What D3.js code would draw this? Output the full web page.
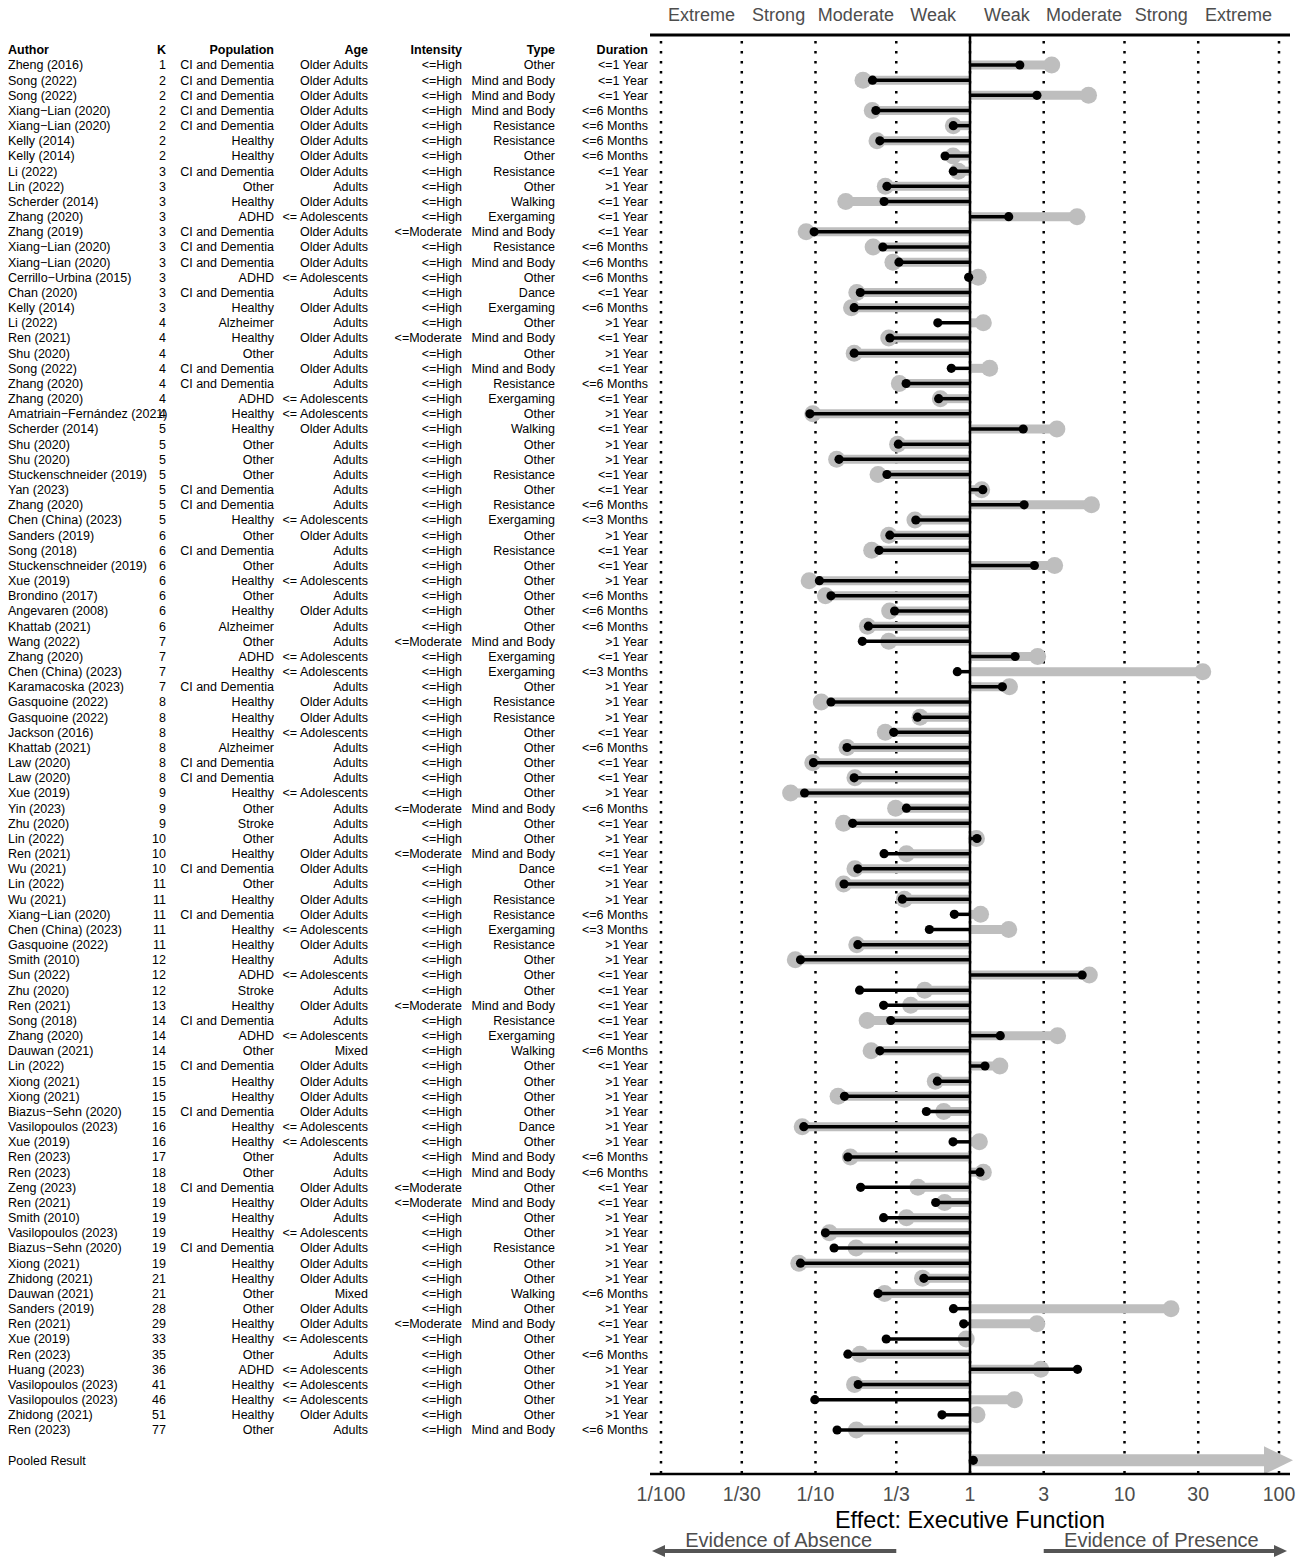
<!DOCTYPE html>
<html>
<head>
<meta charset="utf-8">
<title>Effect: Executive Function</title>
<style>
  body { margin: 0; background: #fff; }
  text { font-family: "Liberation Sans", Arial, sans-serif; }
</style>
</head>
<body>
<script src="https://d3js.org/d3.v7.min.js"></script>
<script>

// ---- data ----
var authors = ["Zheng (2016)","Song (2022)","Song (2022)","Xiang−Lian (2020)","Xiang−Lian (2020)","Kelly (2014)","Kelly (2014)","Li (2022)","Lin (2022)","Scherder (2014)",
  "Zhang (2020)","Zhang (2019)","Xiang−Lian (2020)","Xiang−Lian (2020)","Cerrillo−Urbina (2015)","Chan (2020)","Kelly (2014)","Li (2022)","Ren (2021)","Shu (2020)",
  "Song (2022)","Zhang (2020)","Zhang (2020)","Amatriain−Fernández (2021)","Scherder (2014)","Shu (2020)","Shu (2020)","Stuckenschneider (2019)","Yan (2023)","Zhang (2020)",
  "Chen (China) (2023)","Sanders (2019)","Song (2018)","Stuckenschneider (2019)","Xue (2019)","Brondino (2017)","Angevaren (2008)","Khattab (2021)","Wang (2022)","Zhang (2020)",
  "Chen (China) (2023)","Karamacoska (2023)","Gasquoine (2022)","Gasquoine (2022)","Jackson (2016)","Khattab (2021)","Law (2020)","Law (2020)","Xue (2019)","Yin (2023)",
  "Zhu (2020)","Lin (2022)","Ren (2021)","Wu (2021)","Lin (2022)","Wu (2021)","Xiang−Lian (2020)","Chen (China) (2023)","Gasquoine (2022)","Smith (2010)",
  "Sun (2022)","Zhu (2020)","Ren (2021)","Song (2018)","Zhang (2020)","Dauwan (2021)","Lin (2022)","Xiong (2021)","Xiong (2021)","Biazus−Sehn (2020)",
  "Vasilopoulos (2023)","Xue (2019)","Ren (2023)","Ren (2023)","Zeng (2023)","Ren (2021)","Smith (2010)","Vasilopoulos (2023)","Biazus−Sehn (2020)","Xiong (2021)",
  "Zhidong (2021)","Dauwan (2021)","Sanders (2019)","Ren (2021)","Xue (2019)","Ren (2023)","Huang (2023)","Vasilopoulos (2023)","Vasilopoulos (2023)","Zhidong (2021)",
  "Ren (2023)"];

var kValues = [1,2,2,2,2,2,2,3,3,3, 3,3,3,3,3,3,3,4,4,4, 4,4,4,4,5,5,5,5,5,5, 5,6,6,6,6,6,6,6,7,7,
  7,7,8,8,8,8,8,8,9,9, 9,10,10,10,11,11,11,11,11,12, 12,12,13,14,14,14,15,15,15,15,
  16,16,17,18,18,19,19,19,19,19, 21,21,28,29,33,35,36,41,46,51, 77];

var populations = ["CI and Dementia","CI and Dementia","CI and Dementia","CI and Dementia","CI and Dementia","Healthy","Healthy","CI and Dementia","Other","Healthy",
  "ADHD","CI and Dementia","CI and Dementia","CI and Dementia","ADHD","CI and Dementia","Healthy","Alzheimer","Healthy","Other",
  "CI and Dementia","CI and Dementia","ADHD","Healthy","Healthy","Other","Other","Other","CI and Dementia","CI and Dementia",
  "Healthy","Other","CI and Dementia","Other","Healthy","Other","Healthy","Alzheimer","Other","ADHD",
  "Healthy","CI and Dementia","Healthy","Healthy","Healthy","Alzheimer","CI and Dementia","CI and Dementia","Healthy","Other",
  "Stroke","Other","Healthy","CI and Dementia","Other","Healthy","CI and Dementia","Healthy","Healthy","Healthy",
  "ADHD","Stroke","Healthy","CI and Dementia","ADHD","Other","CI and Dementia","Healthy","Healthy","CI and Dementia",
  "Healthy","Healthy","Other","Other","CI and Dementia","Healthy","Healthy","Healthy","CI and Dementia","Healthy",
  "Healthy","Other","Other","Healthy","Healthy","Other","ADHD","Healthy","Healthy","Healthy",
  "Other"];

var ages = ["Older Adults","Older Adults","Older Adults","Older Adults","Older Adults","Older Adults","Older Adults","Older Adults","Adults","Older Adults",
  "<= Adolescents","Older Adults","Older Adults","Older Adults","<= Adolescents","Adults","Older Adults","Adults","Older Adults","Adults",
  "Older Adults","Adults","<= Adolescents","<= Adolescents","Older Adults","Adults","Adults","Adults","Adults","Adults",
  "<= Adolescents","Older Adults","Adults","Adults","<= Adolescents","Adults","Older Adults","Adults","Adults","<= Adolescents",
  "<= Adolescents","Adults","Older Adults","Older Adults","<= Adolescents","Adults","Adults","Adults","<= Adolescents","Adults",
  "Adults","Adults","Older Adults","Older Adults","Adults","Older Adults","Older Adults","<= Adolescents","Older Adults","Adults",
  "<= Adolescents","Adults","Older Adults","Adults","<= Adolescents","Mixed","Older Adults","Older Adults","Older Adults","Older Adults",
  "<= Adolescents","<= Adolescents","Adults","Adults","Older Adults","Older Adults","Adults","<= Adolescents","Older Adults","Older Adults",
  "Older Adults","Mixed","Older Adults","Older Adults","<= Adolescents","Adults","<= Adolescents","<= Adolescents","<= Adolescents","Older Adults",
  "Adults"];

var intensities = ["<=High","<=High","<=High","<=High","<=High","<=High","<=High","<=High","<=High","<=High",
  "<=High","<=Moderate","<=High","<=High","<=High","<=High","<=High","<=High","<=Moderate","<=High",
  "<=High","<=High","<=High","<=High","<=High","<=High","<=High","<=High","<=High","<=High",
  "<=High","<=High","<=High","<=High","<=High","<=High","<=High","<=High","<=Moderate","<=High",
  "<=High","<=High","<=High","<=High","<=High","<=High","<=High","<=High","<=High","<=Moderate",
  "<=High","<=High","<=Moderate","<=High","<=High","<=High","<=High","<=High","<=High","<=High",
  "<=High","<=High","<=Moderate","<=High","<=High","<=High","<=High","<=High","<=High","<=High",
  "<=High","<=High","<=High","<=High","<=Moderate","<=Moderate","<=High","<=High","<=High","<=High",
  "<=High","<=High","<=High","<=Moderate","<=High","<=High","<=High","<=High","<=High","<=High",
  "<=High"];

var types = ["Other","Mind and Body","Mind and Body","Mind and Body","Resistance","Resistance","Other","Resistance","Other","Walking",
  "Exergaming","Mind and Body","Resistance","Mind and Body","Other","Dance","Exergaming","Other","Mind and Body","Other",
  "Mind and Body","Resistance","Exergaming","Other","Walking","Other","Other","Resistance","Other","Resistance",
  "Exergaming","Other","Resistance","Other","Other","Other","Other","Other","Mind and Body","Exergaming",
  "Exergaming","Other","Resistance","Resistance","Other","Other","Other","Other","Other","Mind and Body",
  "Other","Other","Mind and Body","Dance","Other","Resistance","Resistance","Exergaming","Resistance","Other",
  "Other","Other","Mind and Body","Resistance","Exergaming","Walking","Other","Other","Other","Other",
  "Dance","Other","Mind and Body","Mind and Body","Other","Mind and Body","Other","Other","Resistance","Other",
  "Other","Walking","Other","Mind and Body","Other","Other","Other","Other","Other","Other",
  "Mind and Body"];

var durations = ["<=1 Year","<=1 Year","<=1 Year","<=6 Months","<=6 Months","<=6 Months","<=6 Months","<=1 Year",">1 Year","<=1 Year",
  "<=1 Year","<=1 Year","<=6 Months","<=6 Months","<=6 Months","<=1 Year","<=6 Months",">1 Year","<=1 Year",">1 Year",
  "<=1 Year","<=6 Months","<=1 Year",">1 Year","<=1 Year",">1 Year",">1 Year","<=1 Year","<=1 Year","<=6 Months",
  "<=3 Months",">1 Year","<=1 Year","<=1 Year",">1 Year","<=6 Months","<=6 Months","<=6 Months",">1 Year","<=1 Year",
  "<=3 Months",">1 Year",">1 Year",">1 Year","<=1 Year","<=6 Months","<=1 Year","<=1 Year",">1 Year","<=6 Months",
  "<=1 Year",">1 Year","<=1 Year","<=1 Year",">1 Year",">1 Year","<=6 Months","<=3 Months",">1 Year",">1 Year",
  "<=1 Year","<=1 Year","<=1 Year","<=1 Year","<=1 Year","<=6 Months","<=1 Year",">1 Year",">1 Year",">1 Year",
  ">1 Year",">1 Year","<=6 Months","<=6 Months","<=1 Year","<=1 Year",">1 Year",">1 Year",">1 Year",">1 Year",
  ">1 Year","<=6 Months",">1 Year","<=1 Year",">1 Year","<=6 Months",">1 Year",">1 Year",">1 Year",">1 Year",
  "<=6 Months"];

// black lollipop (point estimate)
var pointBF = [2.10,0.234,2.71,0.246,0.78,0.261,0.69,0.78,0.290,0.278,
  1.78,0.098,0.273,0.347,0.98,0.195,0.178,0.619,0.303,0.178,
  0.757,0.386,0.627,0.092,2.21,0.344,0.142,0.290,1.21,2.24,
  0.446,0.303,0.258,2.61,0.106,0.126,0.325,0.220,0.201,1.96,
  0.828,1.62,0.126,0.457,0.321,0.160,0.097,0.178,0.085,0.388,
  0.174,1.11,0.278,0.188,0.153,0.365,0.792,0.546,0.188,0.080,
  5.32,0.193,0.276,0.307,1.57,0.261,1.25,0.615,0.154,0.522,
  0.084,0.777,0.162,1.16,0.196,0.600,0.276,0.116,0.132,0.080,
  0.503,0.254,0.782,0.910,0.287,0.162,4.96,0.189,0.099,0.659,
  0.138];

// grey lollipop
var barBF = [3.38,0.203,5.85,0.233,0.78,0.250,0.777,0.84,0.283,0.157,
  4.93,0.087,0.236,0.317,1.13,0.185,0.171,1.22,0.298,0.178,
  1.34,0.349,0.643,0.096,3.65,0.340,0.137,0.254,1.19,6.11,
  0.440,0.298,0.231,3.53,0.091,0.116,0.302,0.217,0.298,2.74,
  32.1,1.80,0.109,0.475,0.283,0.160,0.096,0.180,0.069,0.330,
  0.152,1.10,0.388,0.180,0.152,0.376,1.17,1.78,0.185,0.074,
  5.92,0.509,0.413,0.216,3.69,0.229,1.56,0.596,0.140,0.676,
  0.082,1.15,0.168,1.22,0.460,0.685,0.388,0.123,0.183,0.078,
  0.493,0.280,20.0,2.71,0.945,0.194,2.87,0.179,1.94,1.11,
  0.184];

var pooledLabel = "Pooled Result";
var pooledPoint = 1.05;
var pooledBar = 1000;   // runs off the right edge, drawn as an arrow

var tickValues = [0.01, 1/30, 0.1, 1/3, 1, 3, 10, 30, 100];
var tickLabels = ["1/100","1/30","1/10","1/3","1","3","10","30","100"];
var strengthLabels = ["Extreme","Strong","Moderate","Weak","Weak","Moderate","Strong","Extreme"];

// ---- layout ----
var width = 1302, height = 1557;
var plotLeft = 650, plotRight = 1290, plotTop = 35, plotBottom = 1474;
var grey = "#bebebe", textGrey = "#4d4d4d";

var svg = d3.select("body").append("svg")
  .attr("width", width)
  .attr("height", height);

var x = d3.scaleLog().domain([0.01, 100]).range([661, 1279]);
var y = d3.scaleLinear().domain([0, authors.length - 1]).range([65, 1430]);
var rows = d3.range(authors.length);

// ---- table ----
var columns = [
  {title: "Author", values: authors, x: 8, anchor: "start"},
  {title: "K", values: kValues, x: 166, anchor: "end"},
  {title: "Population", values: populations, x: 274, anchor: "end"},
  {title: "Age", values: ages, x: 368, anchor: "end"},
  {title: "Intensity", values: intensities, x: 462, anchor: "end"},
  {title: "Type", values: types, x: 555, anchor: "end"},
  {title: "Duration", values: durations, x: 648, anchor: "end"}
];

columns.forEach(function(col){
  var g = svg.append("g").attr("font-size", 12.5).attr("fill", "#000");
  g.append("text")
    .attr("x", col.x).attr("y", y(-1)).attr("dy", "0.35em")
    .attr("text-anchor", col.anchor)
    .attr("font-weight", "bold")
    .text(col.title);
  g.selectAll("text.cell").data(col.values).enter().append("text")
    .attr("class", "cell")
    .attr("x", col.x)
    .attr("y", function(d, i){ return y(i); })
    .attr("dy", "0.35em")
    .attr("text-anchor", col.anchor)
    .text(function(d){ return d; });
});

svg.append("text")
  .attr("x", 8).attr("y", y(authors.length + 1)).attr("dy", "0.35em")
  .attr("font-size", 12.5)
  .text(pooledLabel);

// ---- grid ----
svg.selectAll("line.grid").data(tickValues).enter().append("line")
  .attr("class", "grid")
  .attr("x1", function(d){ return x(d); })
  .attr("x2", function(d){ return x(d); })
  .attr("y1", plotTop + 6)
  .attr("y2", plotBottom)
  .attr("stroke", "#000")
  .attr("stroke-width", 2.5)
  .attr("stroke-dasharray", "2.6,7.4");

// ---- grey lollipops ----
svg.selectAll("line.bar").data(rows).enter().append("line")
  .attr("x1", x(1))
  .attr("x2", function(i){ return x(barBF[i]); })
  .attr("y1", function(i){ return y(i); })
  .attr("y2", function(i){ return y(i); })
  .attr("stroke", grey)
  .attr("stroke-width", 9);

svg.selectAll("circle.bar").data(rows).enter().append("circle")
  .attr("cx", function(i){ return x(barBF[i]); })
  .attr("cy", function(i){ return y(i); })
  .attr("r", 8.5)
  .attr("fill", grey);

// pooled grey arrow
var py = y(authors.length + 1);
var headBase = plotRight - 26, headTip = plotRight + 3;
var pooledEnd = Math.min(x(pooledBar), headBase);
svg.append("line")
  .attr("x1", x(1)).attr("x2", pooledEnd)
  .attr("y1", py).attr("y2", py)
  .attr("stroke", grey).attr("stroke-width", 12);
svg.append("path")
  .attr("d", "M" + headBase + "," + (py - 14) + "L" + headTip + "," + py + "L" + headBase + "," + (py + 14) + "Z")
  .attr("fill", grey);

// ---- black lollipops ----
svg.selectAll("line.pt").data(rows).enter().append("line")
  .attr("x1", x(1))
  .attr("x2", function(i){ return x(pointBF[i]); })
  .attr("y1", function(i){ return y(i); })
  .attr("y2", function(i){ return y(i); })
  .attr("stroke", "#000")
  .attr("stroke-width", 3.5);

svg.selectAll("circle.pt").data(rows).enter().append("circle")
  .attr("cx", function(i){ return x(pointBF[i]); })
  .attr("cy", function(i){ return y(i); })
  .attr("r", 4.6)
  .attr("fill", "#000");

svg.append("line")
  .attr("x1", x(1)).attr("x2", x(pooledPoint))
  .attr("y1", py).attr("y2", py)
  .attr("stroke", "#000").attr("stroke-width", 3.5);
svg.append("circle")
  .attr("cx", x(pooledPoint)).attr("cy", py).attr("r", 4.6).attr("fill", "#000");

// ---- frame lines ----
svg.append("line")
  .attr("x1", x(1)).attr("x2", x(1))
  .attr("y1", plotTop).attr("y2", plotBottom)
  .attr("stroke", "#000").attr("stroke-width", 2.5);

svg.append("line")
  .attr("x1", plotLeft).attr("x2", plotRight)
  .attr("y1", plotTop).attr("y2", plotTop)
  .attr("stroke", "#000").attr("stroke-width", 3);

svg.append("line")
  .attr("x1", plotLeft).attr("x2", plotRight)
  .attr("y1", plotBottom).attr("y2", plotBottom)
  .attr("stroke", "#000").attr("stroke-width", 2.5);

// ---- axis labels ----
svg.selectAll("text.tick").data(tickValues).enter().append("text")
  .attr("x", function(d){ return x(d); })
  .attr("y", plotBottom + 20)
  .attr("dy", "0.35em")
  .attr("text-anchor", "middle")
  .attr("font-size", 19.5)
  .attr("fill", textGrey)
  .text(function(d, i){ return tickLabels[i]; });

svg.selectAll("text.strength").data(strengthLabels).enter().append("text")
  .attr("x", function(d, i){ return (x(tickValues[i]) + x(tickValues[i + 1])) / 2; })
  .attr("y", 15)
  .attr("dy", "0.35em")
  .attr("text-anchor", "middle")
  .attr("font-size", 18)
  .attr("fill", textGrey)
  .text(function(d){ return d; });

svg.append("text")
  .attr("x", x(1)).attr("y", 1520).attr("dy", "0.35em")
  .attr("text-anchor", "middle")
  .attr("font-size", 23.4)
  .attr("fill", "#000")
  .text("Effect: Executive Function");

// evidence arrows
var ay = 1551, arrowCol = "#555";
function evidenceArrow(label, from, to, textX){
  var dir = to > from ? 1 : -1;
  svg.append("line")
    .attr("x1", from).attr("x2", to - dir * 10)
    .attr("y1", ay).attr("y2", ay)
    .attr("stroke", arrowCol).attr("stroke-width", 4);
  svg.append("path")
    .attr("d", "M" + to + "," + ay + "L" + (to - dir * 13) + "," + (ay - 6) + "L" + (to - dir * 13) + "," + (ay + 6) + "Z")
    .attr("fill", arrowCol);
  svg.append("text")
    .attr("x", textX).attr("y", 1540).attr("dy", "0.35em")
    .attr("text-anchor", "middle")
    .attr("font-size", 20)
    .attr("fill", textGrey)
    .text(label);
}
evidenceArrow("Evidence of Absence", x(1/3), plotLeft + 2, (x(0.01) + x(1/3)) / 2);
evidenceArrow("Evidence of Presence", x(3), plotRight - 3, (x(3) + x(100)) / 2);

</script>
</body>
</html>
